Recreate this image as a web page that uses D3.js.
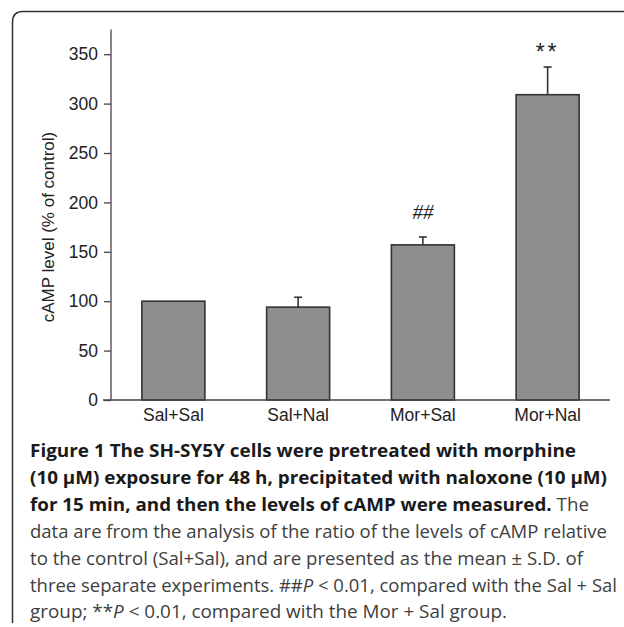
<!DOCTYPE html>
<html>
<head>
<meta charset="utf-8">
<script src="https://cdn.jsdelivr.net/npm/d3@7"></script>
<style>
  body { margin: 0; background: #fff; }
  svg { display: block; }
</style>
</head>
<body>
<div id="chart-area"></div>
<script>
// values
var groups = ["Sal+Sal", "Sal+Nal", "Mor+Sal", "Mor+Nal"];
var means = [100, 94, 157, 309];
var sds = [0, 10, 8, 28];
var marks = ["", "", "##", "**"];
var yTicks = [0, 50, 100, 150, 200, 250, 300, 350];

var width = 624;
var height = 627;

var svg = d3.select("#chart-area").append("svg")
    .attr("width", width)
    .attr("height", height);

// rounded frame, open on the right and bottom
svg.append("path")
    .attr("d", "M12.5,623 L12.5,22 Q12.5,11.5 23,11.5 L624,11.5")
    .attr("fill", "none")
    .attr("stroke", "#333")
    .attr("stroke-width", 1.5);

var x = d3.scaleBand()
    .domain(groups)
    .range([111, 610])
    .paddingInner(0.495)
    .paddingOuter(0.2475);

var y = d3.scaleLinear()
    .domain([0, 375])
    .range([400, 29.5]);

var g = svg.append("g");

// bars
g.selectAll("rect.bar")
    .data(groups)
    .enter()
    .append("rect")
        .attr("class", "bar")
        .attr("x", (d) => x(d))
        .attr("y", (d, i) => y(means[i]))
        .attr("width", x.bandwidth())
        .attr("height", (d, i) => y(0) - y(means[i]))
        .attr("fill", "#8e8e8e")
        .attr("stroke", "#333")
        .attr("stroke-width", 1.6);

// upper error bars
var err = g.selectAll("g.err")
    .data(groups.filter((d, i) => sds[i] > 0))
    .enter()
    .append("g")
        .attr("class", "err")
        .attr("stroke", "#333")
        .attr("stroke-width", 1.6);

err.append("line")
    .attr("x1", (d) => x(d) + x.bandwidth() / 2)
    .attr("x2", (d) => x(d) + x.bandwidth() / 2)
    .attr("y1", (d) => y(means[groups.indexOf(d)]))
    .attr("y2", (d) => { var i = groups.indexOf(d); return y(means[i] + sds[i]); });

err.append("line")
    .attr("x1", (d) => x(d) + x.bandwidth() / 2 - 4)
    .attr("x2", (d) => x(d) + x.bandwidth() / 2 + 4)
    .attr("y1", (d) => { var i = groups.indexOf(d); return y(means[i] + sds[i]); })
    .attr("y2", (d) => { var i = groups.indexOf(d); return y(means[i] + sds[i]); });

// significance marks
g.selectAll("text.mark")
    .data(groups.filter((d, i) => marks[i] !== ""))
    .enter()
    .append("text")
        .attr("class", "mark")
        .attr("x", (d) => x(d) + x.bandwidth() / 2)
        .attr("y", (d) => {
            var i = groups.indexOf(d);
            return y(means[i] + sds[i]) - (marks[i] === "**" ? 7 : 18);
        })
        .attr("text-anchor", "middle")
        .attr("font-family", (d) => marks[groups.indexOf(d)] === "**" ? "Liberation Sans" : "Liberation Serif")
        .attr("font-style", (d) => marks[groups.indexOf(d)] === "**" ? "normal" : "italic")
        .attr("font-size", (d) => marks[groups.indexOf(d)] === "**" ? "23px" : "21px")
        .attr("letter-spacing", (d) => marks[groups.indexOf(d)] === "**" ? "3px" : "0px")
        .attr("fill", "#222")
        .text((d) => marks[groups.indexOf(d)]);

// axes
var leftAxis = d3.axisLeft(y)
    .tickValues(yTicks)
    .tickSize(7)
    .tickPadding(6);
var ya = g.append("g")
    .attr("class", "left axis")
    .attr("transform", "translate(111,0)")
    .call(leftAxis);
ya.select(".domain").attr("d", "M0," + y(375) + "V" + y(0));
ya.selectAll("line, path").attr("stroke", "#444").attr("stroke-width", 1.3);
ya.selectAll("text")
    .attr("font-family", "Liberation Sans, Arial, sans-serif")
    .attr("font-size", "17.5px")
    .attr("fill", "#222");

var bottomAxis = d3.axisBottom(x).tickSize(0).tickPadding(9);
var xa = g.append("g")
    .attr("class", "bottom axis")
    .attr("transform", "translate(0," + y(0) + ")")
    .call(bottomAxis);
xa.select(".domain").attr("d", "M103,0H610").attr("stroke", "#444").attr("stroke-width", 1.3);
xa.selectAll("text")
    .attr("font-family", "Liberation Sans, Arial, sans-serif")
    .attr("font-size", "17.5px")
    .attr("fill", "#222");

g.append("text")
    .attr("class", "y axis-label")
    .attr("x", -227)
    .attr("y", 54)
    .attr("transform", "rotate(-90)")
    .attr("text-anchor", "middle")
    .attr("font-family", "Liberation Sans, Arial, sans-serif")
    .attr("font-size", "17px")
    .attr("fill", "#222")
    .text("cAMP level (% of control)");

// caption
var captionLines = [
    [["b", "Figure 1 The SH-SY5Y cells were pretreated with morphine"]],
    [["b", "(10 \u00b5M) exposure for 48 h, precipitated with naloxone (10 \u00b5M)"]],
    [["b", "for 15 min, and then the levels of cAMP were measured."], ["r", " The"]],
    [["r", "data are from the analysis of the ratio of the levels of cAMP relative"]],
    [["r", "to the control (Sal+Sal), and are presented as the mean \u00b1 S.D. of"]],
    [["r", "three separate experiments. ##"], ["i", "P"], ["r", " < 0.01, compared with the Sal + Sal"]],
    [["r", "group; **"], ["i", "P"], ["r", " < 0.01, compared with the Mor + Sal group."]]
];
var captionWidths = [546, 577, 559, 577, 553, 587, 477];

captionLines.forEach((line, li) => {
    var t = svg.append("text")
        .attr("x", 30)
        .attr("y", 457 + li * 26.9)
        .attr("font-family", "Open Sans, sans-serif")
        .attr("font-size", "18.5px")
        .attr("textLength", captionWidths[li])
        .attr("lengthAdjust", "spacingAndGlyphs");
    line.forEach((seg) => {
        t.append("tspan")
            .attr("font-weight", seg[0] === "b" ? "bold" : "normal")
            .attr("font-style", seg[0] === "i" ? "italic" : "normal")
            .attr("fill", seg[0] === "b" ? "#1a1a1a" : "#404040")
            .text(seg[1]);
    });
});
</script>
</body>
</html>
